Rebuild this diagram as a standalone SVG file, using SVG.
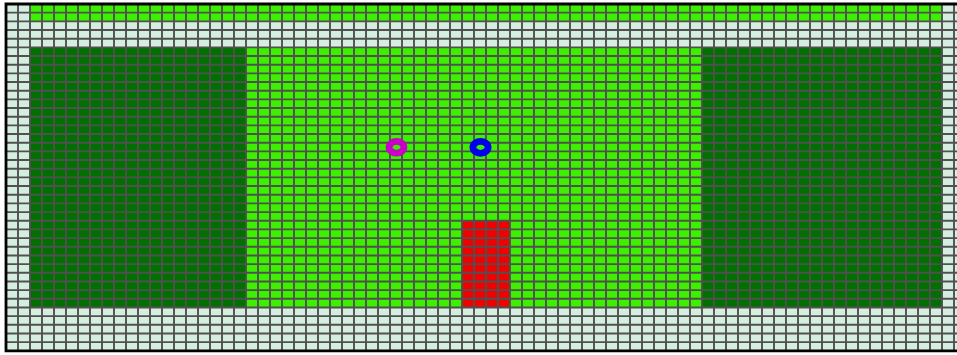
<svg xmlns="http://www.w3.org/2000/svg" width="957" height="355" viewBox="0 0 957 355">
<style>
.pale{fill:#d6eee0}
.bright{fill:#3cf000}
.dark{fill:#007000}
.red{fill:#f00000}
.grid{stroke:#505050;stroke-width:1.9;fill:none}
.border{stroke:#000;stroke-width:2.8;fill:none}
.ring{fill:none;stroke-width:6.8}
</style>
<rect width="957" height="355" fill="#ffffff"/>
<g id="background"><rect class="pale" x="6" y="4" width="951" height="346.8"/></g>
<g id="top-band"><rect class="bright" x="30" y="4" width="912" height="17.34"/></g>
<g id="left-block"><rect class="dark" x="30" y="47.35" width="216" height="260.1"/></g>
<g id="center-block"><rect class="bright" x="246" y="47.35" width="456" height="260.1"/></g>
<g id="right-block"><rect class="dark" x="702" y="47.35" width="240" height="260.1"/></g>
<g id="red-block"><rect class="red" x="462" y="220.75" width="48" height="86.7"/></g>
<g id="grid">
<path class="grid" d="M18 4V351M30 4V351M42 4V351M54 4V351M66 4V351M78 4V351M90 4V351M102 4V351M114 4V351M126 4V351M138 4V351M150 4V351M162 4V351M174 4V351M186 4V351M198 4V351M210 4V351M222 4V351M234 4V351M246 4V351M258 4V351M270 4V351M282 4V351M294 4V351M306 4V351M318 4V351M330 4V351M342 4V351M354 4V351M366 4V351M378 4V351M390 4V351M402 4V351M414 4V351M426 4V351M438 4V351M450 4V351M462 4V351M474 4V351M486 4V351M498 4V351M510 4V351M522 4V351M534 4V351M546 4V351M558 4V351M570 4V351M582 4V351M594 4V351M606 4V351M618 4V351M630 4V351M642 4V351M654 4V351M666 4V351M678 4V351M690 4V351M702 4V351M714 4V351M726 4V351M738 4V351M750 4V351M762 4V351M774 4V351M786 4V351M798 4V351M810 4V351M822 4V351M834 4V351M846 4V351M858 4V351M870 4V351M882 4V351M894 4V351M906 4V351M918 4V351M930 4V351M942 4V351M954 4V351"/>
<path class="grid" d="M6 12.67H957M6 21.34H957M6 30.01H957M6 38.68H957M6 47.35H957M6 56.02H957M6 64.69H957M6 73.36H957M6 82.03H957M6 90.7H957M6 99.37H957M6 108.04H957M6 116.71H957M6 125.38H957M6 134.05H957M6 142.72H957M6 151.39H957M6 160.06H957M6 168.73H957M6 177.4H957M6 186.07H957M6 194.74H957M6 203.41H957M6 212.08H957M6 220.75H957M6 229.42H957M6 238.09H957M6 246.76H957M6 255.43H957M6 264.1H957M6 272.77H957M6 281.44H957M6 290.11H957M6 298.78H957M6 307.45H957M6 316.12H957M6 324.79H957M6 333.46H957M6 342.13H957"/>
</g>
<g id="border"><path class="border" d="M957 4H6V350.8H957"/></g>
<g id="magenta-ring"><ellipse class="ring" cx="396.5" cy="147.3" rx="7.4" ry="5.9" stroke="#c800c8"/></g>
<g id="blue-ring"><ellipse class="ring" cx="480.5" cy="147.3" rx="7.6" ry="6.0" stroke="#0000ee"/></g>
</svg>
